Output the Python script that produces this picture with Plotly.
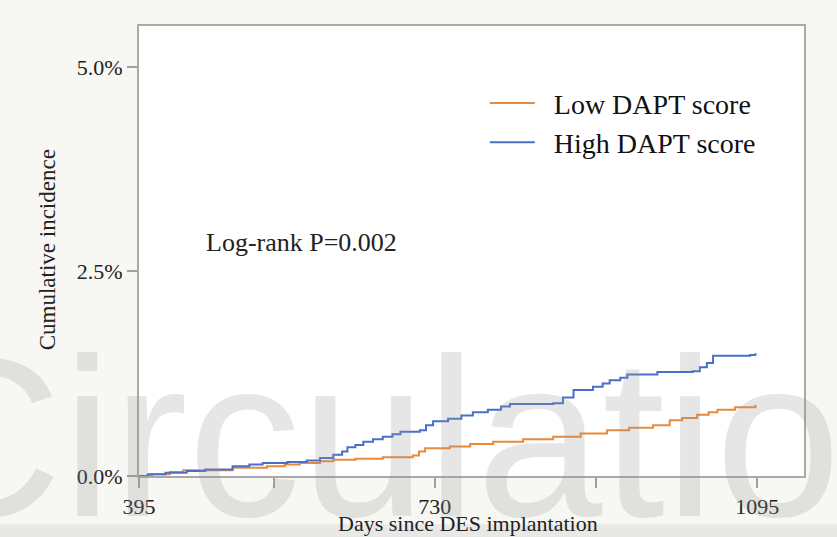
import plotly.graph_objects as go

# Kaplan-Meier style cumulative incidence (%)
low_days = [395, 410, 430, 445, 501, 540, 560, 577, 600, 615, 640, 671, 705, 712, 719, 747,
            770, 796, 830, 864, 895, 925, 950, 977, 996, 1010, 1027, 1040, 1050, 1070, 1093]
low_vals = [0, 0.02, 0.05, 0.07, 0.10, 0.12, 0.14, 0.16, 0.18, 0.20, 0.21, 0.23, 0.25, 0.30, 0.34, 0.36,
            0.39, 0.42, 0.45, 0.48, 0.52, 0.56, 0.59, 0.62, 0.68, 0.71, 0.75, 0.78, 0.81, 0.84, 0.87]

high_days = [395, 405, 425, 449, 470, 501, 520, 535, 563, 585, 600, 615, 625, 631, 640, 649, 660,
             671, 682, 691, 713, 720, 728, 745, 760, 773, 790, 805, 815, 864, 875, 887, 909, 920,
             928, 940, 948, 982, 1022, 1030, 1038, 1045, 1087, 1093]
high_vals = [0, 0.02, 0.04, 0.06, 0.08, 0.12, 0.14, 0.16, 0.17, 0.19, 0.22, 0.26, 0.30, 0.35, 0.38, 0.42, 0.45,
             0.48, 0.51, 0.54, 0.56, 0.62, 0.67, 0.70, 0.74, 0.78, 0.81, 0.85, 0.88, 0.89, 0.96, 1.05, 1.09, 1.13,
             1.17, 1.20, 1.24, 1.27, 1.28, 1.33, 1.38, 1.47, 1.48, 1.50]

x_tickvals = [395, 547.5, 730, 912.5, 1095]
x_ticktext = ["395", "", "730", "", "1095"]
y_tickvals = [0, 2.5, 5.0]
y_ticktext = ["0.0%", "2.5%", "5.0%"]

series_names = ["Low DAPT score", "High DAPT score"]
colors = ["#e8893b", "#4a6fc9"]

SERIF = "Liberation Serif"
PAD = "\u00a0\u00a0"

fig = go.Figure()
fig.add_trace(go.Scatter(x=low_days, y=low_vals, mode="lines", line_shape="hv",
                         name=PAD + series_names[0], line=dict(color=colors[0], width=2)))
fig.add_trace(go.Scatter(x=high_days, y=high_vals, mode="lines", line_shape="hv",
                         name=PAD + series_names[1], line=dict(color=colors[1], width=2)))

axis_common = dict(showline=True, linecolor="#a9a9a9", linewidth=2, mirror=True,
                   ticks="outside", ticklen=10, tickwidth=1.5, tickcolor="#a0a0a0",
                   showgrid=False, zeroline=False,
                   tickfont=dict(family=SERIF, size=22, color="#222222"))

fig.update_layout(
    width=837, height=537,
    margin=dict(l=139, r=33, t=26, b=61),
    paper_bgcolor="#f7f7f3",
    plot_bgcolor="#ffffff",
    showlegend=True,
    legend=dict(x=0.52, y=0.884, xanchor="left", yanchor="top",
                bgcolor="rgba(0,0,0,0)", font=dict(family=SERIF, size=28, color="#111111"),
                itemwidth=45, tracegroupgap=0),
    xaxis=dict(range=[395, 1148], tickvals=x_tickvals, ticktext=x_ticktext, **axis_common),
    yaxis=dict(range=[0, 5.5], tickvals=y_tickvals, ticktext=y_ticktext, **axis_common),
)

# bottom band of the page
fig.add_shape(type="rect", xref="paper", yref="paper", x0=-0.25, x1=1.1, y0=-0.137, y1=-0.107,
              fillcolor="#e8e8e6", line=dict(width=0), layer="below")

# journal watermark
fig.add_annotation(text="Circulation", xref="paper", yref="paper",
                   x=-0.364, y=0.086, xanchor="left", yanchor="middle", showarrow=False,
                   font=dict(family="Liberation Sans", size=226, color="rgba(150,150,150,0.24)"))

# axis titles placed as in the original
fig.add_annotation(text="Days since DES implantation", xref="paper", yref="paper",
                   x=0.495, y=-0.105, xanchor="center", yanchor="middle", showarrow=False,
                   font=dict(family=SERIF, size=22, color="#222222"))
fig.add_annotation(text="Cumulative incidence", xref="paper", yref="paper",
                   x=-0.138, y=0.502, xanchor="center", yanchor="middle", showarrow=False,
                   textangle=-90, font=dict(family=SERIF, size=23, color="#222222"))

fig.add_annotation(text="Log-rank P=0.002", xref="paper", yref="paper",
                   x=0.098, y=0.518, xanchor="left", yanchor="middle", showarrow=False,
                   font=dict(family=SERIF, size=26, color="#222222"))

fig.write_html("out.html")
